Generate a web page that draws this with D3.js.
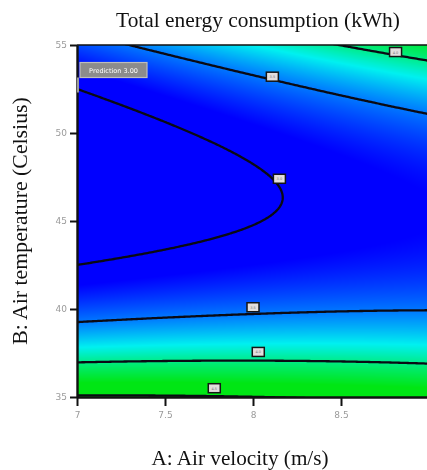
<!DOCTYPE html>
<html>
<head>
<meta charset="utf-8">
<script src="https://cdn.jsdelivr.net/npm/d3@7"></script>
<style>
  html, body { margin: 0; padding: 0; background: #fff; overflow: hidden; }
  #wrap { position: relative; width: 427px; height: 470px; }
  #wrap canvas, #wrap svg { position: absolute; left: 0; top: 0; }
</style>
</head>
<body>
<div id="wrap"></div>
<script>
// Quadratic response-surface model in coded factors
// a = (A - 8) / 1,  b = (B - 45) / 10
// terms: intercept, a, b, a*b, a^2, b^2
const coefficients = [2.991, 0.180, -0.349, 0.233, -0.029, 1.163];
const contourLevels = [3.0, 3.5, 4.0, 4.5];
const xTicks = [7, 7.5, 8, 8.5, 9];
const yTicks = [35, 40, 45, 50, 55];
// contour label positions: [level, A, B]
const labelLevels = [4.0, 3.5, 3.0, 3.5, 4.0, 4.5];
const labelA = [8.81, 8.11, 8.15, 8.0, 8.03, 7.78];
const labelB = [54.6, 53.2, 47.4, 40.1, 37.56, 35.5];
// prediction flag
const flagPoint = [7.0, 52.3];
const flagText = "Prediction 3.00";
// colour ramp of the response surface
const colorStops = [3.15, 3.5, 3.8, 4.05, 4.3];
const colorValues = ["#0000ff", "#0078ff", "#00f0f0", "#00eb6e", "#00e614"];

const W = 427, H = 470;
const margin = { left: 77, top: 45, plotW: 352, plotH: 352 };

const x = d3.scaleLinear().domain([7, 9]).range([margin.left, margin.left + margin.plotW]);
const y = d3.scaleLinear().domain([35, 55]).range([margin.top + margin.plotH, margin.top]);
const color = d3.scaleLinear().domain(colorStops).range(colorValues).clamp(true);

function energy(A, B) {
  const a = A - 8, b = (B - 45) / 10;
  const c = coefficients;
  return c[0] + c[1] * a + c[2] * b + c[3] * a * b + c[4] * a * a + c[5] * b * b;
}

const wrap = d3.select("#wrap");

// filled surface
const canvas = wrap.append("canvas").attr("width", W).attr("height", H).node();
const ctx = canvas.getContext("2d");
const img = ctx.createImageData(W, H);
const x0 = Math.round(x(7)), x1 = Math.min(W, Math.round(x(9)));
const y0 = Math.round(y(55)), y1 = Math.round(y(35));
for (let py = y0; py < y1; py++) {
  const B = y.invert(py + 0.5);
  for (let px = x0; px < x1; px++) {
    const A = x.invert(px + 0.5);
    const c = d3.rgb(color(energy(A, B)));
    const k = (py * W + px) * 4;
    img.data[k] = c.r; img.data[k + 1] = c.g; img.data[k + 2] = c.b; img.data[k + 3] = 255;
  }
}
ctx.putImageData(img, 0, 0);

const svg = wrap.append("svg").attr("width", W).attr("height", H);

svg.append("clipPath").attr("id", "plotClip")
  .append("rect")
  .attr("x", x(7)).attr("y", y(55))
  .attr("width", x(9) - x(7)).attr("height", y(35) - y(55));

// contour lines
const A0 = 6.9, A1 = 9.1, Btop = 55.5, Bbot = 34.5;
const nx = 221, ny = 211;
const dA = (A1 - A0) / (nx - 1), dB = (Btop - Bbot) / (ny - 1);
const grid = new Float64Array(nx * ny);
for (let j = 0; j < ny; j++) {
  const B = Btop - j * dB;
  for (let i = 0; i < nx; i++) grid[j * nx + i] = energy(A0 + i * dA, B);
}
const contours = d3.contours().size([nx, ny]).thresholds(contourLevels)(grid);
const proj = d3.geoTransform({
  point: function (cx, cy) {
    this.stream.point(x(A0 + (cx - 0.5) * dA), y(Btop - (cy - 0.5) * dB));
  }
});
const path = d3.geoPath(proj);
svg.append("g").attr("clip-path", "url(#plotClip)")
  .selectAll("path").data(contours).join("path")
  .attr("d", path)
  .attr("fill", "none")
  .attr("stroke", "#0a0a14")
  .attr("stroke-width", 2.3)
  .attr("stroke-linejoin", "round");

// frame
svg.append("line")
  .attr("x1", x(7)).attr("x2", x(9)).attr("y1", y(55)).attr("y2", y(55))
  .attr("stroke", "#111").attr("stroke-width", 1.6);

// axes
const fontSans = "'DejaVu Sans', Arial, sans-serif";
const yAxis = svg.append("g")
  .attr("transform", `translate(${x(7)},0)`)
  .call(d3.axisLeft(y).tickValues(yTicks).tickFormat(d => String(d))
    .tickSize(7).tickPadding(3).tickSizeOuter(0));
const xAxis = svg.append("g")
  .attr("transform", `translate(0,${y(35)})`)
  .call(d3.axisBottom(x).tickValues(xTicks).tickFormat(d => String(d))
    .tickSize(9).tickPadding(6).tickSizeOuter(0));
[yAxis, xAxis].forEach(g => {
  g.select(".domain").attr("stroke", "#111").attr("stroke-width", 2.4);
  g.selectAll(".tick line").attr("stroke", "#111").attr("stroke-width", 2);
  g.selectAll(".tick text").attr("fill", "#9a9a9a").attr("font-size", 9).attr("font-family", fontSans);
});

// contour labels
const lbl = svg.append("g").selectAll("g").data(labelLevels).join("g")
  .attr("transform", (d, i) => `translate(${x(labelA[i])},${y(labelB[i])})`);
lbl.append("rect")
  .attr("x", -6).attr("y", -4.5).attr("width", 12).attr("height", 9)
  .attr("fill", "#e2dede").attr("stroke", "#151515").attr("stroke-width", 1.5);
lbl.append("text")
  .attr("text-anchor", "middle").attr("dy", 1.5)
  .attr("font-size", 3.5).attr("font-family", fontSans).attr("fill", "#777")
  .text(d => d.toFixed(1));

// prediction flag
const fx = x(flagPoint[0]), fy = y(flagPoint[1]);
svg.append("line")
  .attr("x1", fx + 1).attr("x2", fx + 1).attr("y1", fy).attr("y2", fy - 15)
  .attr("stroke", "#9a9a9a").attr("stroke-width", 2);
svg.append("rect")
  .attr("x", fx + 3).attr("y", fy - 30).attr("width", 67).attr("height", 15)
  .attr("fill", "#8c8c8c").attr("stroke", "#bdbdbd").attr("stroke-width", 1.2);
svg.append("text")
  .attr("x", fx + 36.5).attr("y", fy - 20)
  .attr("text-anchor", "middle").attr("font-size", 6.5).attr("font-family", fontSans)
  .attr("fill", "#ffffff")
  .text(flagText);

// titles
const fontSerif = "'Liberation Serif', 'Times New Roman', serif";
svg.append("text")
  .attr("x", 258).attr("y", 27).attr("text-anchor", "middle")
  .attr("font-family", fontSerif).attr("font-size", 21.4).attr("fill", "#111")
  .text("Total energy consumption (kWh)");
svg.append("text")
  .attr("x", 240).attr("y", 465).attr("text-anchor", "middle")
  .attr("font-family", fontSerif).attr("font-size", 21.2).attr("fill", "#111")
  .text("A: Air velocity (m/s)");
svg.append("text")
  .attr("transform", `translate(27,${(y(35) + y(55)) / 2}) rotate(-90)`)
  .attr("text-anchor", "middle")
  .attr("font-family", fontSerif).attr("font-size", 21.8).attr("fill", "#111")
  .text("B: Air temperature (Celsius)");
</script>
</body>
</html>
